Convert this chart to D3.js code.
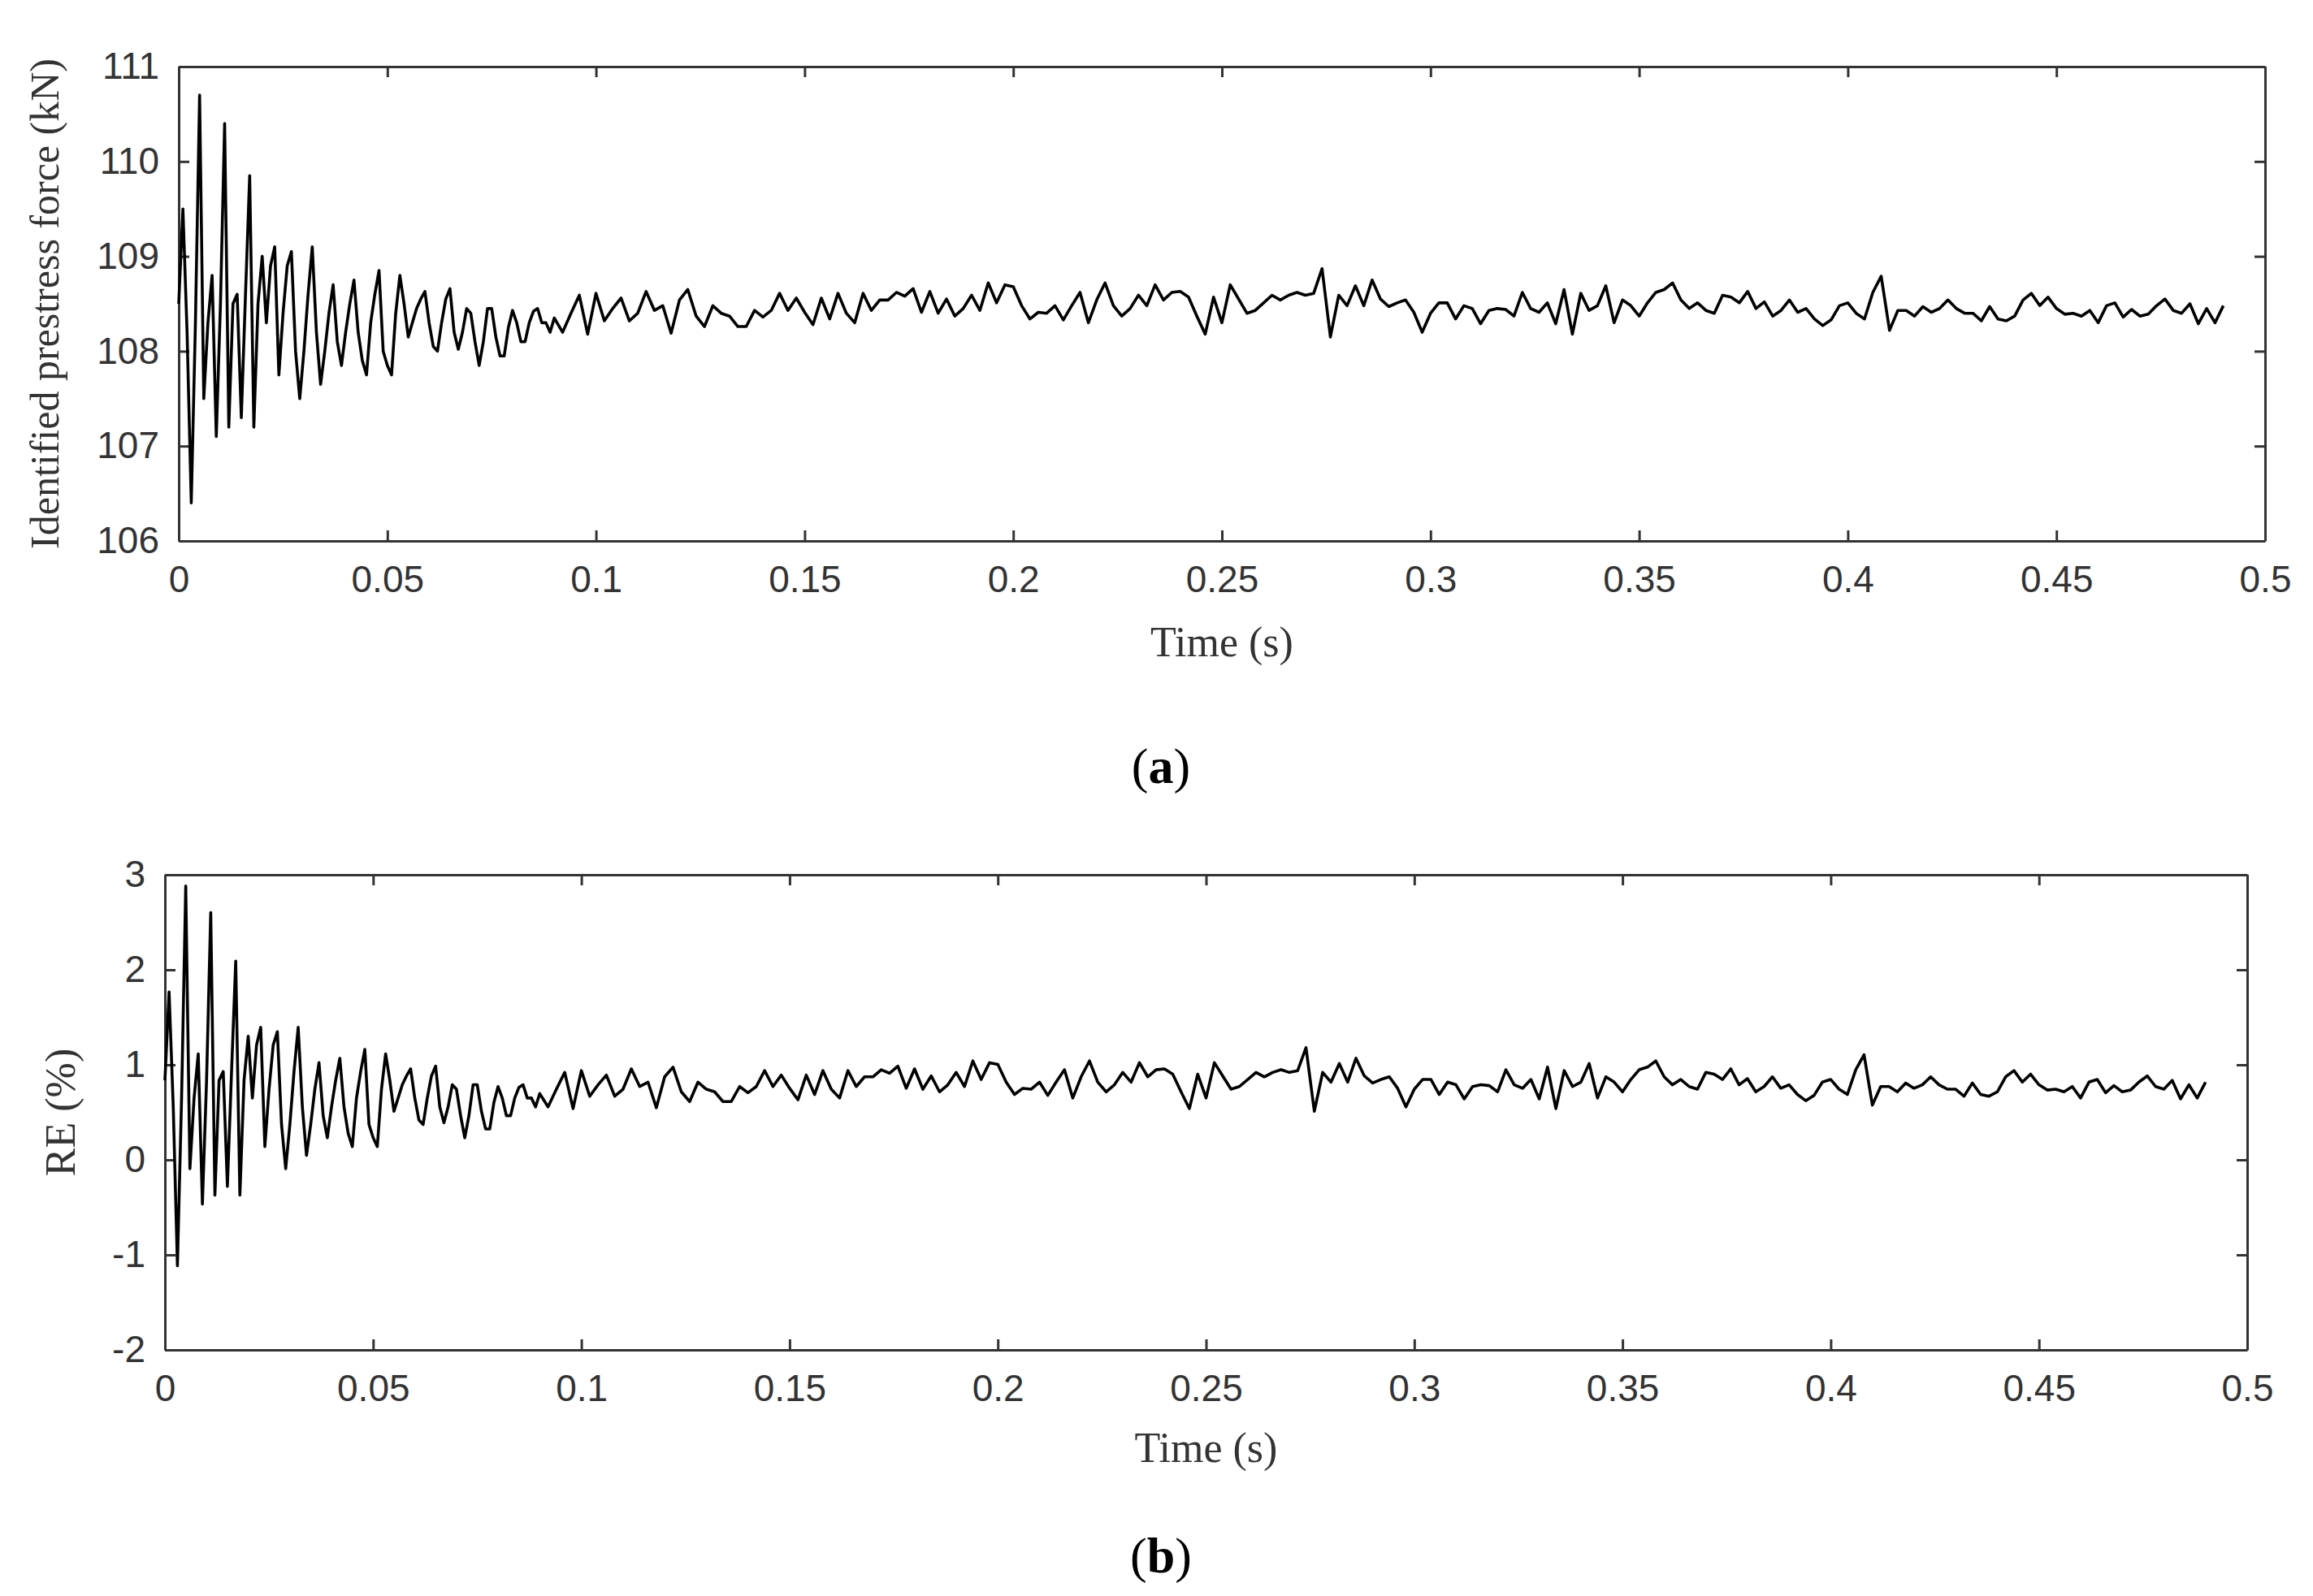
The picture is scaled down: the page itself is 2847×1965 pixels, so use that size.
<!DOCTYPE html>
<html><head><meta charset="utf-8">
<script src="https://cdn.jsdelivr.net/npm/d3@7"></script>
<style>body{margin:0;background:#fff}</style>
</head><body>
<svg id="c" width="2847" height="1965"></svg>
<script>
// Identified prestress force (kN), t = 0 .. 0.090 s, step 0.001 s
const forceEarly = [108.5,109.5,108.2,106.4,108.3,110.7,107.5,108.3,108.8,107.1,
108.5,110.4,107.2,108.5,108.6,107.3,108.6,109.85,107.2,108.5,
109.0,108.3,108.9,109.1,107.75,108.4,108.9,109.05,108.0,107.5,
108.0,108.6,109.1,108.2,107.65,108.0,108.4,108.7,108.1,107.85,
108.2,108.5,108.75,108.2,107.9,107.75,108.3,108.6,108.85,108.0,
107.85,107.75,108.4,108.8,108.5,108.15,108.3,108.45,108.55,108.63,
108.3,108.05,108.0,108.3,108.55,108.66,108.2,108.02,108.2,108.45,
108.4,108.1,107.85,108.1,108.45,108.45,108.15,107.95,107.95,108.25,
108.43,108.3,108.1,108.1,108.3,108.42,108.45,108.3,108.3,108.2,108.35];
// t = 0.092 .. 0.490 s, step 0.002 s
const forceLate = [108.20,108.40,108.59,108.18,108.61,108.32,108.45,108.56,108.32,108.40,
108.63,108.43,108.48,108.19,108.54,108.65,108.37,108.26,108.48,108.40,
108.37,108.26,108.26,108.43,108.36,108.43,108.61,108.43,108.56,108.41,
108.28,108.56,108.34,108.61,108.40,108.30,108.61,108.43,108.54,108.54,
108.62,108.58,108.66,108.41,108.63,108.40,108.55,108.37,108.45,108.59,
108.43,108.72,108.51,108.70,108.68,108.48,108.34,108.41,108.40,108.48,
108.33,108.48,108.62,108.30,108.54,108.72,
108.48,108.37,108.45,108.59,108.48,108.70,108.54,108.62,108.63,108.57,
108.37,108.18,108.57,108.30,108.70,108.55,108.40,108.43,108.51,108.59,
108.54,108.59,108.62,108.59,108.61,108.87,108.15,108.59,108.48,108.69,
108.48,108.75,108.55,108.47,108.51,108.54,108.41,108.20,108.40,108.51,
108.51,108.34,108.48,108.45,108.29,108.43,108.45,108.44,108.37,108.62,
108.45,108.41,108.51,108.29,108.65,108.18,108.61,108.43,108.48,108.69,
108.30,108.54,108.48,108.37,108.51,108.62,108.65,108.72,
108.54,108.45,108.51,108.43,108.40,108.59,108.57,108.51,108.63,108.45,
108.52,108.37,108.43,108.54,108.41,108.45,108.34,108.27,108.33,108.48,
108.51,108.40,108.34,108.62,108.79,108.22,108.43,108.43,108.37,108.47,
108.41,108.45,108.54,108.45,108.40,108.40,108.32,108.47,108.34,108.32,
108.37,108.54,108.61,108.48,108.57,108.45,108.39,108.40,108.37,108.43,
108.30,108.48,108.51,108.36,108.44,108.37,108.39,108.48,108.55,108.43,
108.40,108.50,108.29,108.45,108.30,108.48];
const earlyStep = 0.001, lateStart = 0.092, lateStep = 0.002;
const nominalForce = 107.6; // kN, reference prestress for relative error
const xTicks = [0,0.05,0.1,0.15,0.2,0.25,0.3,0.35,0.4,0.45,0.5];
const xTickLabels = ['0','0.05','0.1','0.15','0.2','0.25','0.3','0.35','0.4','0.45','0.5'];
const yTicksA = [106,107,108,109,110,111];
const yTickLabelsA = ['106','107','108','109','110','111'];
const yTicksB = [-2,-1,0,1,2,3];
const yTickLabelsB = ['-2','-1','0','1','2','3'];

const series = forceEarly.map((f,i)=>({t:+(i*earlyStep).toFixed(4), f}))
  .concat(forceLate.map((f,i)=>({t:+(lateStart+i*lateStep).toFixed(4), f})));
series.forEach(d=>d.re=(d.f-nominalForce)/nominalForce*100);

const svg = d3.select('#c');
function panel(cfg){
  const {L,R,T,B,yDom,yTicks,yLabels,acc,ylab,ylx,xlabY,tagY,tag} = cfg;
  const x = d3.scaleLinear().domain([0,0.5]).range([L,R]);
  const y = d3.scaleLinear().domain(yDom).range([B,T]);
  const g = svg.append('g');
  const tl = 13;
  const axB = g.append('g').attr('transform',`translate(0,${B})`)
    .call(d3.axisBottom(x).tickValues(xTicks).tickSizeInner(-tl).tickSizeOuter(0).tickPadding(30).tickFormat((d,i)=>xTickLabels[i]));
  const axT = g.append('g').attr('transform',`translate(0,${T})`)
    .call(d3.axisTop(x).tickValues(xTicks).tickSizeInner(-tl).tickSizeOuter(0).tickFormat(''));
  const axL = g.append('g').attr('transform',`translate(${L},0)`)
    .call(d3.axisLeft(y).tickValues(yTicks).tickSizeInner(-tl).tickSizeOuter(0).tickPadding(24).tickFormat((d,i)=>yLabels[i]));
  const axR = g.append('g').attr('transform',`translate(${R},0)`)
    .call(d3.axisRight(y).tickValues(yTicks).tickSizeInner(-tl).tickSizeOuter(0).tickFormat(''));
  [axB,axT,axL,axR].forEach(a=>{
    a.select('.domain').attr('stroke','#333').attr('stroke-width',3);
    a.selectAll('.tick line').attr('stroke','#333').attr('stroke-width',3);
    a.selectAll('text').attr('font-family','Liberation Sans, Arial, sans-serif').attr('font-size',46).attr('fill','#333');
  });
  axB.selectAll('.tick text').attr('dy','0.71em');
  g.append('path').datum(series)
    .attr('d', d3.line().x(d=>x(d.t)).y(d=>y(d[acc])))
    .attr('fill','none').attr('stroke','#000').attr('stroke-width',3.6).attr('stroke-linejoin','round');
  g.append('text').attr('x',(L+R)/2).attr('y',xlabY).attr('text-anchor','middle')
    .attr('font-family','Liberation Serif, Times New Roman, serif').attr('font-size',52).attr('fill','#333').text('Time (s)');
  g.append('text').attr('transform',`translate(${ylx},${(T+B)/2}) rotate(-90)`).attr('text-anchor','middle')
    .attr('font-family','Liberation Serif, Times New Roman, serif').attr('font-size',cfg.ylfs).attr('fill','#333').text(ylab);
  const tg = g.append('text').attr('x',1429).attr('y',tagY).attr('text-anchor','middle')
    .attr('font-family','Liberation Serif, Times New Roman, serif').attr('font-size',62).attr('fill','#000');
  tg.append('tspan').text('(');
  tg.append('tspan').attr('font-weight','bold').text(tag);
  tg.append('tspan').text(')');
}
panel({L:220,R:2788,T:82,B:666,yDom:[106,111],yTicks:yTicksA,yLabels:yTickLabelsA,acc:'f',
  ylab:'Identified prestress force (kN)',ylx:72,ylfs:50,xlabY:808,tagY:964,tag:'a'});
panel({L:203,R:2766,T:1077,B:1662,yDom:[-2,3],yTicks:yTicksB,yLabels:yTickLabelsB,acc:'re',
  ylab:'RE (%)',ylx:92,ylfs:52,xlabY:1800,tagY:1936,tag:'b'});
</script>
</body></html>
